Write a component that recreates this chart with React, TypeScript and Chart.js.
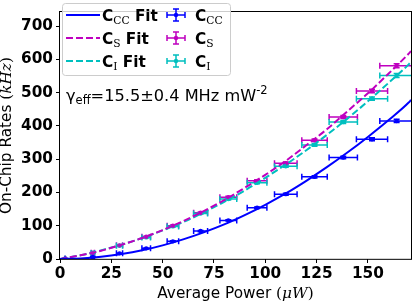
import React, { useEffect, useRef } from "react";
import { Chart, registerables } from "chart.js";

Chart.register(...registerables);

// Measured points
const powerUW = [2.5, 16, 29, 42, 55, 68.5, 82, 96, 110, 124, 138, 152, 164];
const powerErr = [0.1, 0.8, 1.5, 2.1, 2.8, 3.4, 4.1, 4.8, 5.5, 6.2, 6.9, 7.6, 8.2];
const rateCC = [1, 6, 17, 32, 53, 84, 116, 154, 195, 247, 305, 360, 415];
const rateS = [1, 19, 41, 67, 100, 139, 186, 235, 288, 357, 427, 505, 581];
const rateI = [1, 18, 40, 65, 98, 137, 180, 229, 279, 343, 412, 482, 552];
const errCC = [0.5, 0.5, 1, 1, 1.5, 2, 2, 2.5, 3, 3.5, 4, 4.5, 5];
const errS = [0.5, 1, 1, 1.5, 2, 2, 2.5, 3, 3.5, 4, 4.5, 5, 6];
const errI = [0.5, 1, 1, 1.5, 2, 2, 2.5, 3, 3.5, 4, 4.5, 5, 6];

// Fit curves
const fitPower = [0, 10, 20, 30, 40, 50, 60, 70, 80, 90, 100, 110, 120, 130, 140, 150, 160, 170, 171];
const fitCC = [0, 1.6, 6.5, 14.7, 26, 41, 59, 80, 104, 132, 163, 197, 235, 276, 320, 367, 417, 471, 478];
const fitS = [0, 11, 25, 43, 63, 87, 114, 144, 177, 214, 253, 295, 342, 390, 444, 498, 557, 618, 625];
const fitI = [0, 11, 26, 43, 63, 86, 111, 140, 172, 206, 244, 284, 327, 373, 422, 474, 529, 586, 593];

const xTicksStep = 25;
const yTicksStep = 100;
const xMax = 171;
const yMax = 742;

const BLUE = "#0000ff";
const MAG = "#bf00bf";
const CYAN = "#00bfbf";

const FS = 15.3;
const SANS = '"DejaVu Sans"';
const SERIF = '"DejaVu Serif"';
const fBold = `bold ${FS}px ${SANS}`;
const fReg = `${FS}px ${SANS}`;
const fAnn = `16.2px ${SANS}`;
const fAnnSub = `11.5px ${SANS}`;
const fSub = `${(FS * 0.7).toFixed(1)}px ${SERIF}`;
const fMathIt = `italic ${FS}px ${SERIF}`;
const fMath = `${FS}px ${SERIF}`;

type Seg = { t: string; font: string; dy?: number };

function segWidth(ctx: CanvasRenderingContext2D, segs: Seg[]) {
  let w = 0;
  for (const s of segs) {
    ctx.font = s.font;
    w += ctx.measureText(s.t).width;
  }
  return w;
}

function drawSegs(ctx: CanvasRenderingContext2D, segs: Seg[], x: number, y: number) {
  let cx = x;
  for (const s of segs) {
    ctx.font = s.font;
    ctx.fillText(s.t, cx, y + (s.dy || 0));
    cx += ctx.measureText(s.t).width;
  }
}

const pointSeries = [
  { ys: rateCC, es: errCC, color: BLUE },
  { ys: rateS, es: errS, color: MAG },
  { ys: rateI, es: errI, color: CYAN },
];

const extraPlugin = {
  id: "extras",
  beforeDatasetsDraw(chart: any) {
    const { ctx, chartArea: a, scales } = chart;
    const xs = scales.x, ysc = scales.y;
    ctx.save();
    ctx.beginPath();
    ctx.rect(a.left, a.top, a.right - a.left, a.bottom - a.top);
    ctx.clip();
    ctx.lineWidth = 1.5;
    const cap = 3;
    for (const ser of pointSeries) {
      ctx.strokeStyle = ser.color;
      for (let i = 0; i < powerUW.length; i++) {
        const px = xs.getPixelForValue(powerUW[i]);
        const py = ysc.getPixelForValue(ser.ys[i]);
        const x0 = xs.getPixelForValue(powerUW[i] - powerErr[i]);
        const x1 = xs.getPixelForValue(powerUW[i] + powerErr[i]);
        const y0 = ysc.getPixelForValue(ser.ys[i] - ser.es[i]);
        const y1 = ysc.getPixelForValue(ser.ys[i] + ser.es[i]);
        ctx.beginPath();
        ctx.moveTo(x0, py); ctx.lineTo(x1, py);
        ctx.moveTo(x0, py - cap); ctx.lineTo(x0, py + cap);
        ctx.moveTo(x1, py - cap); ctx.lineTo(x1, py + cap);
        ctx.moveTo(px, y0); ctx.lineTo(px, y1);
        ctx.moveTo(px - cap, y0); ctx.lineTo(px + cap, y0);
        ctx.moveTo(px - cap, y1); ctx.lineTo(px + cap, y1);
        ctx.stroke();
      }
    }
    ctx.restore();
  },
  afterDraw(chart: any) {
    const { ctx, chartArea: a } = chart;
    ctx.save();
    // frame
    ctx.strokeStyle = "#000";
    ctx.lineWidth = 1;
    ctx.strokeRect(Math.round(a.left) - 0.5, Math.round(a.top) - 0.5, a.right - a.left + 1, a.bottom - a.top + 1);

    ctx.fillStyle = "#000";
    ctx.textBaseline = "alphabetic";
    ctx.textAlign = "left";

    // x title
    const xt: Seg[] = [
      { t: "Average Power ", font: fReg },
      { t: "(", font: fMath },
      { t: "\u03bcW", font: fMathIt },
      { t: ")", font: fMath },
    ];
    const xw = segWidth(ctx, xt);
    drawSegs(ctx, xt, (a.left + a.right) / 2 - xw / 2, 298);

    // y title
    const yt: Seg[] = [
      { t: "On-Chip Rates ", font: fReg },
      { t: "(", font: fMath },
      { t: "kHz", font: fMathIt },
      { t: ")", font: fMath },
    ];
    const yw = segWidth(ctx, yt);
    ctx.save();
    ctx.translate(11, (a.top + a.bottom) / 2);
    ctx.rotate(-Math.PI / 2);
    drawSegs(ctx, yt, -yw / 2, 0);
    ctx.restore();

    // annotation
    drawSegs(ctx, [
      { t: "\u03b3", font: fAnn },
      { t: "eff", font: fAnnSub, dy: 3 },
      { t: "=15.5\u00b10.4 MHz mW", font: fAnn },
      { t: "-2", font: fAnnSub, dy: -6.5 },
    ], 66, 100.5);

    // legend
    ctx.save();
    ctx.globalAlpha = 0.8;
    ctx.fillStyle = "#fff";
    ctx.beginPath();
    (ctx as any).roundRect(62.5, 3.5, 168, 72, 3);
    ctx.fill();
    ctx.globalAlpha = 1;
    ctx.strokeStyle = "#cccccc";
    ctx.lineWidth = 1;
    ctx.stroke();
    ctx.restore();

    const rows = [
      { color: BLUE, dash: [] as number[], sub: "CC" },
      { color: MAG, dash: [7, 3], sub: "S" },
      { color: CYAN, dash: [7, 3], sub: "I" },
    ];
    rows.forEach((r, i) => {
      const cy = 15 + i * 23;
      ctx.save();
      ctx.strokeStyle = r.color;
      ctx.lineWidth = 2;
      ctx.setLineDash(r.dash);
      ctx.beginPath();
      ctx.moveTo(66, cy);
      ctx.lineTo(100, cy);
      ctx.stroke();
      ctx.setLineDash([]);
      ctx.lineWidth = 1.5;
      const gx = 176;
      ctx.beginPath();
      ctx.moveTo(gx - 9, cy); ctx.lineTo(gx + 9, cy);
      ctx.moveTo(gx - 9, cy - 3); ctx.lineTo(gx - 9, cy + 3);
      ctx.moveTo(gx + 9, cy - 3); ctx.lineTo(gx + 9, cy + 3);
      ctx.moveTo(gx, cy - 6); ctx.lineTo(gx, cy + 6);
      ctx.moveTo(gx - 3, cy - 6); ctx.lineTo(gx + 3, cy - 6);
      ctx.moveTo(gx - 3, cy + 6); ctx.lineTo(gx + 3, cy + 6);
      ctx.stroke();
      ctx.fillStyle = r.color;
      ctx.beginPath();
      ctx.arc(gx, cy, 2.2, 0, Math.PI * 2);
      ctx.fill();
      ctx.restore();
      ctx.fillStyle = "#000";
      const base = cy + 5.5;
      drawSegs(ctx, [
        { t: "C", font: fBold },
        { t: r.sub, font: fSub, dy: 3 },
        { t: " Fit", font: fBold },
      ], 102, base);
      drawSegs(ctx, [
        { t: "C", font: fBold },
        { t: r.sub, font: fSub, dy: 3 },
      ], 195, base);
    });
    ctx.restore();
  },
};

export default function App() {
  const ref = useRef<HTMLCanvasElement | null>(null);
  useEffect(() => {
    document.body.style.margin = "0";
    const canvas = ref.current!;
    const mk = (ys: number[]) => fitPower.map((x, i) => ({ x, y: ys[i] }));
    const mp = (ys: number[]) => powerUW.map((x, i) => ({ x, y: ys[i] }));
    const tickFont = { family: "DejaVu Sans", weight: "bold" as const, size: FS };
    const chart = new Chart(canvas, {
      type: "scatter",
      data: {
        datasets: [
          { type: "line", label: "CC Fit", data: mk(fitCC), borderColor: BLUE, borderWidth: 2, pointRadius: 0, fill: false, cubicInterpolationMode: "monotone" } as any,
          { type: "line", label: "S Fit", data: mk(fitS), borderColor: MAG, borderWidth: 2, borderDash: [7, 3], pointRadius: 0, fill: false, cubicInterpolationMode: "monotone" } as any,
          { type: "line", label: "I Fit", data: mk(fitI), borderColor: CYAN, borderWidth: 2, borderDash: [7, 3], pointRadius: 0, fill: false, cubicInterpolationMode: "monotone" } as any,
          { type: "scatter", label: "CC", data: mp(rateCC), pointRadius: 2.2, backgroundColor: BLUE, borderWidth: 0 } as any,
          { type: "scatter", label: "S", data: mp(rateS), pointRadius: 2.2, backgroundColor: MAG, borderWidth: 0 } as any,
          { type: "scatter", label: "I", data: mp(rateI), pointRadius: 2.2, backgroundColor: CYAN, borderWidth: 0 } as any,
        ],
      },
      options: {
        animation: false,
        responsive: false,
        maintainAspectRatio: false,
        layout: { padding: { top: 3, right: 1, left: 0, bottom: 0 } },
        plugins: { legend: { display: false }, tooltip: { enabled: false } },
        scales: {
          x: {
            type: "linear",
            min: 0,
            max: xMax,
            ticks: { stepSize: xTicksStep, includeBounds: false, font: tickFont, color: "#000", padding: 2, maxRotation: 0 },
            grid: { drawOnChartArea: false, drawTicks: true, tickLength: 4, color: "#000" },
            border: { display: false },
            afterFit: (s: any) => { s.height = 42; },
          },
          y: {
            type: "linear",
            min: 0,
            max: yMax,
            ticks: { stepSize: yTicksStep, includeBounds: false, font: tickFont, color: "#000", padding: 3 },
            grid: { drawOnChartArea: false, drawTicks: true, tickLength: 4, color: "#000" },
            border: { display: false },
            afterFit: (s: any) => { s.width = 60; },
          },
        },
      } as any,
      plugins: [extraPlugin],
    });
    return () => chart.destroy();
  }, []);
  return <canvas ref={ref} width={415} height={301} style={{ display: "block" }} />;
}
